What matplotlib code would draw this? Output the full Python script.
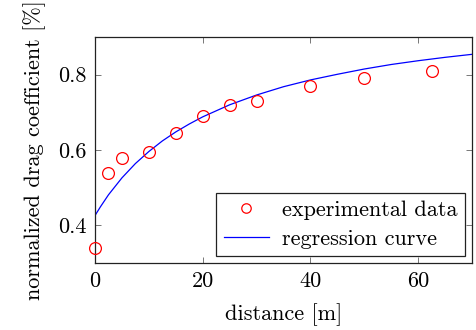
import matplotlib
matplotlib.use("Agg")
import matplotlib.pyplot as plt

plt.rcParams['font.family'] = ['cmr10', 'DejaVu Serif']
plt.rcParams['mathtext.fontset'] = 'cm'
plt.rcParams['axes.unicode_minus'] = False

# experimental data
exp_x = [0, 2.5, 5, 10, 15, 20, 25, 30, 40, 50, 62.5]
exp_y = [0.34, 0.54, 0.58, 0.595, 0.645, 0.69, 0.72, 0.73, 0.77, 0.79, 0.81]

# regression curve
reg_x = [0, 1, 2.5, 5, 7.5, 10, 12.5, 15, 17.5, 20, 25, 30, 35, 40, 45, 50, 55, 60, 65, 70]
reg_y = [0.426, 0.449, 0.481, 0.526, 0.564, 0.596, 0.624, 0.648, 0.669, 0.688,
         0.720, 0.746, 0.768, 0.786, 0.801, 0.815, 0.827, 0.837, 0.846, 0.854]

xticks = [0, 20, 40, 60]
yticks = [0.4, 0.6, 0.8]
xtick_labels = ['0', '20', '40', '60']
ytick_labels = ['0.4', '0.6', '0.8']

fig = plt.figure(figsize=(4.77, 3.30), dpi=100)
ax = fig.add_axes([95/477, 1-263/330, (472-95)/477, (263-37)/330])

ax.plot(exp_x, exp_y, linestyle='none', marker='o', markersize=8.5,
        markerfacecolor='none', markeredgecolor='red', markeredgewidth=0.9,
        label='experimental data', clip_on=False, zorder=3)
ax.plot(reg_x, reg_y, color='blue', linewidth=0.9, label='regression curve', zorder=2)

ax.set_xlim(0, 70)
ax.set_ylim(0.3, 0.9)
ax.set_xticks(xticks)
ax.set_xticklabels(xtick_labels)
ax.set_yticks(yticks)
ax.set_yticklabels(ytick_labels)
ax.tick_params(direction='in', length=4, width=0.7, color='#777777',
               top=True, right=True, labelsize=16, pad=6)
for s in ax.spines.values():
    s.set_linewidth(0.9)
    s.set_color('#222222')

ax.set_xlabel('distance [m]', fontsize=16, labelpad=9)
ax.set_ylabel('normalized drag coefficient [%]', fontsize=16, labelpad=9)

leg = ax.legend(loc='lower right', fontsize=16, fancybox=False, framealpha=1,
                edgecolor='#222222', borderaxespad=0.3, handlelength=2.0,
                handletextpad=0.6, borderpad=0.35, labelspacing=0.4,
                markerscale=0.8)
leg.get_frame().set_linewidth(0.9)

fig.savefig('out.png', dpi=100)
